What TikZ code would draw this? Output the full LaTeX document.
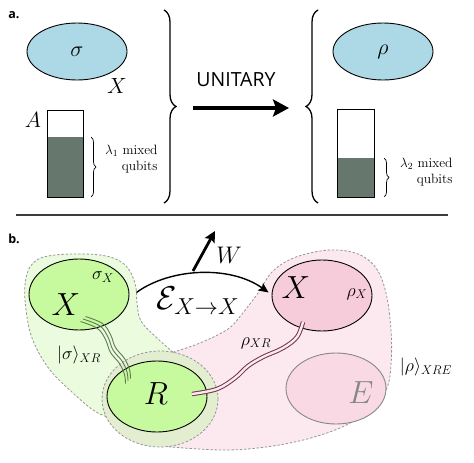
\RequirePackage{fix-cm}
\documentclass[tikz,border=0pt]{standalone}
\usepackage{fontspec}
\newfontfamily\labelfont{Open Sans}
\usetikzlibrary{shapes.geometric,arrows.meta,decorations.pathreplacing}
\definecolor{skyfill}{RGB}{173,216,230}
\definecolor{barfill}{RGB}{102,119,110}
\definecolor{greenell}{RGB}{199,250,158}
\definecolor{greenbg}{RGB}{234,251,222}
\definecolor{halofill}{RGB}{227,237,208}
\definecolor{pinkbg}{RGB}{252,233,240}
\definecolor{pinkell}{RGB}{247,204,218}
\definecolor{eell}{RGB}{249,218,228}
\definecolor{egray}{RGB}{135,135,135}
\definecolor{dashgray}{RGB}{150,150,150}
\definecolor{maroon}{RGB}{110,52,75}
\definecolor{wavegreen}{RGB}{95,122,82}
\definecolor{rulegray}{RGB}{60,60,60}
\newcommand\setfs[2]{\fontsize{#1}{#2}\selectfont}
\begin{document}
\begin{tikzpicture}[x=1pt,y=-1pt,
  ell/.style={ellipse, draw, line width=0.9pt, minimum width=100pt, minimum height=57pt, inner sep=0pt},
  bigell/.style={ellipse, draw, line width=0.9pt, minimum width=100pt, minimum height=71pt, inner sep=0pt},
  blobline/.style={draw=dashgray, line width=0.8pt, dash pattern=on 2.4pt off 1.8pt},
  bigbrace/.style={decorate, decoration={brace, amplitude=12pt}, line width=1.3pt},
  smallbrace/.style={decorate, decoration={brace, amplitude=5pt}, line width=0.7pt},
  panel/.style={font=\labelfont\bfseries\setfs{12.5}{14}},
  wave/.style={draw=wavegreen, line width=0.9pt},
]
\useasboundingbox (0,0) rectangle (474,463);
% ---------------- panel a ----------------
\node[panel] (la) at (14,15) {a.};
\node[ell, fill=skyfill, font=\setfs{22}{26}] (sig) at (77,51.5) {$\sigma$};
\node[font=\setfs{22}{26}] (xa) at (117,86) {$X$};
\node[font=\setfs{22}{26}] (aa) at (33,120) {$A$};
% bar 1
\fill[barfill] (47,137) rectangle (83,197);
\node[draw, line width=0.8pt, minimum width=36pt, minimum height=87pt, inner sep=0pt] (bar1) at (65,153.5) {};
\draw[smallbrace] (91,137) -- (91,197);
\node[anchor=east, align=right, font=\setfs{13.5}{15.5}] (t1) at (161,159) {$\lambda_1$ mixed\\qubits};
% big braces
\draw[bigbrace] (164,10) -- (164,203);
\draw[bigbrace] (318,203) -- (318,10);
\node[font=\labelfont\setfs{19.5}{22}] (uni) at (236,80) {UNITARY};
\coordinate (uS) at (193,108);
\coordinate (uT) at (289,108);
\draw[line width=3.4pt, -{Stealth[length=16pt,width=17pt,inset=3pt]}] (uS) -- (uT);
% right side
\node[ell, fill=skyfill, font=\setfs{22}{26}] (rho) at (383,51.5) {$\rho$};
\fill[barfill] (337,158) rectangle (374,197);
\node[draw, line width=0.8pt, minimum width=37pt, minimum height=88pt, inner sep=0pt] (bar2) at (355.5,153) {};
\draw[smallbrace] (384,158) -- (384,197);
\node[anchor=east, align=right, font=\setfs{13.5}{15.5}] (t2) at (456,172) {$\lambda_2$ mixed\\qubits};
% rule
\draw[rulegray, line width=1.1pt] (16,215) -- (448,215);
% ---------------- panel b ----------------
\node[panel] (lb) at (14,239) {b.};
% pink blob fill
\fill[pinkbg] plot[smooth, tension=0.6] coordinates {(173,352.2) (200,343) (228,329) (242,314) (258,293) (273,271) (296,257) (330,250) (358,254) (376,268) (386,293) (391,330) (391,365) (386,390) (368,410) (340,428) (290,443) (230,450) (167,446.6)} -- cycle;
% green blob fill
\fill[greenbg] plot[smooth, tension=0.6] coordinates {(173,352.2) (157,338) (141,321) (137,303) (135,283) (124,264) (100,255) (55,255) (33,263) (25,285) (27,317) (34,343) (50,370) (73,393) (93,410) (106,416.5)} -- cycle;
% halo (overlap)
\fill[halofill] (160,399) ellipse [x radius=58, y radius=48];
% dashed borders
\draw[blobline] plot[smooth, tension=0.6] coordinates {(173,352.2) (200,343) (228,329) (242,314) (258,293) (273,271) (296,257) (330,250) (358,254) (376,268) (386,293) (391,330) (391,365) (386,390) (368,410) (340,428) (290,443) (230,450) (167,446.6)};
\draw[blobline] plot[smooth, tension=0.6] coordinates {(173,352.2) (157,338) (141,321) (137,303) (135,283) (124,264) (100,255) (55,255) (33,263) (25,285) (27,317) (34,343) (50,370) (73,393) (93,410) (106,416.5)};
\draw[blobline] (160,399) ellipse [x radius=58, y radius=48];
% ellipses
\node[bigell, fill=greenell] (gX) at (79,294.5) {};
\node[bigell, fill=greenell] (gR) at (157,396.5) {};
\node[bigell, fill=pinkell] (pX) at (322,295.5) {};
\node[bigell, fill=eell, draw=egray] (pE) at (336,388.5) {};
% labels
\node[font=\setfs{32}{36}] (lgX) at (66,305) {$X$};
\node[font=\setfs{32}{36}] (lgR) at (156,394) {$R$};
\node[font=\setfs{32}{36}] (lpX) at (296,288) {$X$};
\node[font=\setfs{32}{36}, text=egray] (lpE) at (361,393) {$E$};
\node[font=\setfs{18}{22}] (sX) at (103,277) {$\sigma_X$};
\node[font=\setfs{18}{22}] (rX) at (357,294) {$\rho_X$};
\node[font=\setfs{18}{22}] (sXR) at (79,355) {$|\sigma\rangle_{XR}$};
\node[font=\setfs{18}{22}] (rXR) at (256,343) {$\rho_{XR}$};
\node[font=\setfs{18}{22}] (rXRE) at (426,367) {$|\rho\rangle_{XRE}$};
\node[font=\setfs{33}{38}] (chan) at (198,301) {$\mathcal{E}_{X\to X}$};
\node[font=\setfs{24}{28}] (lW) at (229,255) {$W$};
% channel arrow
\draw[line width=1.4pt, -{Stealth[length=10pt,width=9pt,inset=2pt]}] ([shift={(7,-2)}]gX.east) .. controls (170,268) and (230,265) .. ([shift={(-3,-3)}]pX.west);
% W arrow
\coordinate (wS) at (193,271);
\coordinate (wT) at (215,231);
\draw[line width=2.8pt, -{Stealth[length=11pt,width=11pt,inset=2pt]}] (wS) -- (wT);
% green entanglement lines
\foreach \d in {-2.5,0,2.5}{
  \draw[wave, shift={(\d,-\d)}] plot[smooth, tension=0.6] coordinates {(83,319) (100,326) (108,337) (113,350) (122,361) (127,372) (128,381)};
}
% maroon double line
\draw[draw=maroon, line width=1.0pt, double=pinkbg, double distance=2.4pt] plot[smooth, tension=0.6] coordinates {(192,394) (217,389) (235,378) (248,366) (263,357) (283,348) (297,337) (303,322)};
\end{tikzpicture}
\end{document}
